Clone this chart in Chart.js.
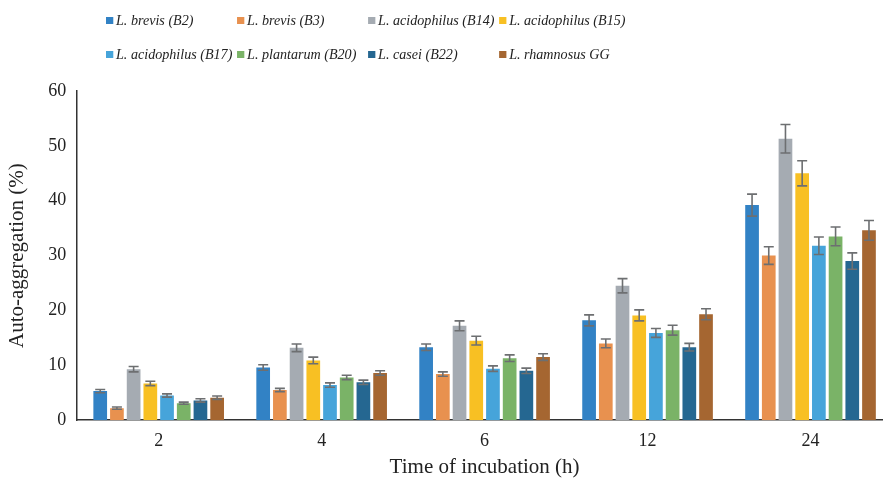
<!DOCTYPE html>
<html>
<head>
<meta charset="utf-8">
<script src="https://cdn.jsdelivr.net/npm/chart.js@4.4.0/dist/chart.umd.min.js"></script>
<style>
    body { margin: 0; background: #fff; overflow: hidden; }
    #box { position: relative; width: 883px; height: 481px; overflow: hidden; }
    #legenda {
        position: absolute; left: 106px; top: 9px;
        display: grid; grid-template-columns: 144px 144px 144px 170px;
        row-gap: 12px;
        transform: scaleX(0.91); transform-origin: 0 0;
        font-family: 'Liberation Serif', 'Times New Roman', serif;
        font-style: italic; font-size: 15.5px; color: #222;
    }
    #legenda div { white-space: nowrap; line-height: 22px; }
    #legenda span { display: inline-block; width: 8px; height: 7px; margin-right: 3px; vertical-align: 1px; }
</style>
</head>
<body>
<div id="box">
    <canvas id="grafico_agregacao" width="892" height="481"></canvas>
    <div id="legenda"></div>
</div>
<script>
    const tempos = ['2', '4', '6', '12', '24'];

    const nomes = ['L. brevis (B2)', 'L. brevis (B3)', 'L. acidophilus (B14)', 'L. acidophilus (B15)',
                   'L. acidophilus (B17)', 'L. plantarum (B20)', 'L. casei (B22)', 'L. rhamnosus GG'];
    const cores = ['#3282c5', '#e8914f', '#a5abb2', '#f8c023', '#46a4da', '#7ab367', '#256791', '#a56631'];

    const b2  = [5.3, 9.6, 13.3, 18.2, 39.2];
    const b3  = [2.2, 5.5, 8.4, 14.0, 30.0];
    const b14 = [9.3, 13.2, 17.2, 24.5, 51.3];
    const b15 = [6.7, 10.9, 14.5, 19.1, 45.0];
    const b17 = [4.5, 6.4, 9.4, 15.9, 31.8];
    const b20 = [3.1, 7.8, 11.3, 16.4, 33.5];
    const b22 = [3.6, 6.9, 9.0, 13.3, 29.0];
    const gg  = [4.1, 8.6, 11.5, 19.3, 34.6];

    // desvio padrao (barras de erro)
    const erro_b2  = [0.3, 0.5, 0.6, 1.0, 2.0];
    const erro_b3  = [0.2, 0.3, 0.4, 0.8, 1.6];
    const erro_b14 = [0.5, 0.7, 0.9, 1.3, 2.6];
    const erro_b15 = [0.4, 0.6, 0.8, 1.0, 2.3];
    const erro_b17 = [0.3, 0.4, 0.5, 0.8, 1.6];
    const erro_b20 = [0.2, 0.4, 0.6, 0.9, 1.7];
    const erro_b22 = [0.3, 0.4, 0.5, 0.7, 1.5];
    const erro_gg  = [0.3, 0.4, 0.6, 1.0, 1.8];

    const valores = [b2, b3, b14, b15, b17, b20, b22, gg];
    const erros = [erro_b2, erro_b3, erro_b14, erro_b15, erro_b17, erro_b20, erro_b22, erro_gg];

    const fonte = "'Liberation Serif', 'Times New Roman', serif";

    const legenda = document.getElementById('legenda');
    nomes.forEach((nome, i) => {
        legenda.innerHTML += `<div><span style="background:${cores[i]}"></span>${nome}</div>`;
    });

    const barrasErro = {
        id: 'barrasErro',
        afterDatasetsDraw(chart) {
            const ctx = chart.ctx;
            const y = chart.scales.y;
            ctx.save();
            ctx.strokeStyle = '#6d6f71';
            ctx.lineWidth = 1.6;
            chart.data.datasets.forEach((ds, i) => {
                const meta = chart.getDatasetMeta(i);
                meta.data.forEach((barra, j) => {
                    const v = ds.data[j];
                    const e = erros[i][j];
                    const topo = y.getPixelForValue(v + e);
                    const base = y.getPixelForValue(v - e);
                    ctx.beginPath();
                    ctx.moveTo(barra.x, topo);
                    ctx.lineTo(barra.x, base);
                    ctx.moveTo(barra.x - 5, topo);
                    ctx.lineTo(barra.x + 5, topo);
                    ctx.moveTo(barra.x - 5, base);
                    ctx.lineTo(barra.x + 5, base);
                    ctx.stroke();
                });
            });
            ctx.restore();
        }
    };

    const ctx_agregacao = document.getElementById('grafico_agregacao');

    new Chart(ctx_agregacao, {
        type: 'bar',
        data: {
            labels: tempos,
            datasets: nomes.map((nome, i) => ({
                label: nome,
                data: valores[i],
                backgroundColor: cores[i],
                borderWidth: 0,
                categoryPercentage: 0.82,
                barPercentage: 0.82
            }))
        },
        options: {
            responsive: false,
            animation: false,
            layout: {
                padding: { top: 91, right: 0, left: 5, bottom: 1 }
            },
            scales: {
                x: {
                    grid: { display: false, drawTicks: false },
                    border: { color: '#333', width: 1.5 },
                    ticks: { color: '#222', padding: 10, font: { family: fonte, size: 18 } },
                    title: {
                        display: true,
                        text: 'Time of incubation (h)',
                        color: '#222',
                        padding: { top: -7, bottom: 0 },
                        font: { family: fonte, size: 21 }
                    }
                },
                y: {
                    min: 0,
                    max: 60,
                    grid: { display: false, drawTicks: false },
                    border: { color: '#333', width: 1.5 },
                    ticks: { stepSize: 10, color: '#222', padding: 11, font: { family: fonte, size: 18 } },
                    title: {
                        display: true,
                        text: 'Auto-aggregation (%)',
                        color: '#222',
                        padding: { top: 0, bottom: 7 },
                        font: { family: fonte, size: 21 }
                    }
                }
            },
            plugins: {
                legend: { display: false },
                tooltip: { enabled: false }
            }
        },
        plugins: [barrasErro]
    });
</script>
</body>
</html>
